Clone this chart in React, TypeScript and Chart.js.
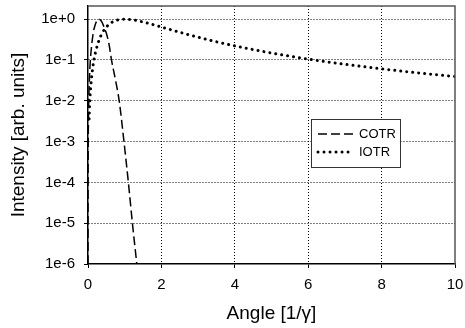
import React, { useEffect, useRef } from "react";
import { Chart, registerables } from "chart.js";

Chart.register(...registerables);

// COTR (coherent OTR)
const cotrAngle = [0.0002, 0.001, 0.005, 0.01, 0.02, 0.04, 0.064, 0.1, 0.14, 0.18, 0.23, 0.3, 0.37, 0.45, 0.5, 0.57, 0.64, 0.75, 0.85, 0.98, 1.1, 1.21, 1.33, 1.45];
const cotrIntensity = [1e-6, 2.4e-5, 6e-4, 2.4e-3, 9.6e-3, 0.038, 0.098, 0.23, 0.44, 0.65, 0.87, 1.0, 0.88, 0.6, 0.45, 0.25, 0.1, 0.032, 0.01, 1e-3, 1e-4, 1e-5, 1e-6, 1e-7];

// IOTR (incoherent OTR)
const iotrAngle = [0.03, 0.05, 0.07, 0.1, 0.15, 0.2, 0.3, 0.4, 0.5, 0.6, 0.7, 0.8, 1.0, 1.2, 1.5, 2, 2.5, 3, 3.5, 4, 5, 6, 7, 8, 9, 10];
const iotrIntensity = [0.0036, 0.00998, 0.0194, 0.0392, 0.0862, 0.148, 0.303, 0.476, 0.64, 0.779, 0.883, 0.952, 1.0, 0.967, 0.852, 0.64, 0.476, 0.36, 0.279, 0.221, 0.148, 0.105, 0.0784, 0.0606, 0.0482, 0.0392];

const seriesLabels = ["COTR", "IOTR"];
const yTickValues = [1e-6, 1e-5, 1e-4, 1e-3, 1e-2, 1e-1, 1];
const yTickLabels = ["1e-6", "1e-5", "1e-4", "1e-3", "1e-2", "1e-1", "1e+0"];
const xTickValues = [0, 2, 4, 6, 8, 10];
const xTitle = "Angle [1/\u03b3]";
const yTitle = "Intensity [arb. units]";

const FONT = "'Liberation Sans', Arial, sans-serif";

const COTR_DASH = [9, 4];
const IOTR_DASH = [0.01, 6];

const framePlugin = {
  id: "frameLegend",
  afterDraw(chart: any) {
    const { ctx, chartArea } = chart;
    const { left, right, top, bottom } = chartArea;
    ctx.save();
    // top & right frame
    ctx.strokeStyle = "#555";
    ctx.lineWidth = 1.5;
    ctx.setLineDash([]);
    ctx.beginPath();
    ctx.moveTo(left, top);
    ctx.lineTo(right, top);
    ctx.lineTo(right, bottom);
    ctx.stroke();

    // legend box
    const bx = 311.5, by = 119.5, bw = 89, bh = 48;
    ctx.fillStyle = "#fff";
    ctx.fillRect(bx, by, bw, bh);
    ctx.strokeStyle = "#333";
    ctx.lineWidth = 1;
    ctx.strokeRect(bx, by, bw, bh);

    const rows = [
      { y: 134, dash: COTR_DASH, width: 1.5, cap: "butt" },
      { y: 152, dash: IOTR_DASH, width: 3, cap: "round" },
    ];
    rows.forEach((r, i) => {
      ctx.strokeStyle = "#000";
      ctx.lineWidth = r.width;
      ctx.lineCap = r.cap;
      ctx.setLineDash(r.dash);
      ctx.beginPath();
      ctx.moveTo(318, r.y);
      ctx.lineTo(353, r.y);
      ctx.stroke();
      ctx.setLineDash([]);
      ctx.fillStyle = "#000";
      ctx.font = `13px ${FONT}`;
      ctx.textAlign = "left";
      ctx.textBaseline = "middle";
      ctx.fillText(seriesLabels[i], 359, r.y + 0.5);
    });
    ctx.restore();
  },
};

export default function App() {
  const ref = useRef<HTMLCanvasElement | null>(null);

  useEffect(() => {
    document.body.style.margin = "0";
    const canvas = ref.current!;
    const chart = new Chart(canvas, {
      type: "scatter",
      data: {
        datasets: [
          {
            label: seriesLabels[0],
            data: cotrAngle.map((x, i) => ({ x, y: cotrIntensity[i] })),
            showLine: true,
            borderColor: "#000",
            backgroundColor: "#000",
            borderWidth: 1.5,
            borderDash: COTR_DASH,
            pointRadius: 0,
            cubicInterpolationMode: "monotone",
          },
          {
            label: seriesLabels[1],
            data: iotrAngle.map((x, i) => ({ x, y: iotrIntensity[i] })),
            showLine: true,
            borderColor: "#000",
            backgroundColor: "#000",
            borderWidth: 3,
            borderDash: IOTR_DASH,
            borderCapStyle: "round",
            pointRadius: 0,
            cubicInterpolationMode: "monotone",
          },
        ],
      },
      options: {
        animation: false,
        responsive: false,
        maintainAspectRatio: false,
        layout: { padding: { left: 0, right: 10, top: 6, bottom: 0 } },
        plugins: { legend: { display: false }, tooltip: { enabled: false } },
        scales: {
          x: {
            type: "linear",
            min: 0,
            max: 10,
            afterBuildTicks: (s: any) => {
              s.ticks = xTickValues.map((v) => ({ value: v }));
            },
            afterFit: (s: any) => {
              s.height = 64;
              s.paddingLeft = 0;
              s.paddingRight = 0;
              s.paddingTop = 0;
              s.paddingBottom = 0;
            },
            ticks: {
              color: "#000",
              font: { family: FONT, size: 15 },
              padding: 8,
              maxRotation: 0,
              callback: (v: any) => String(v),
            },
            grid: {
              color: (c: any) => (c.tick && (c.tick.value === 0 || c.tick.value === 10) ? "rgba(0,0,0,0)" : "#000"),
              lineWidth: 1,
              tickLength: 4,
              tickColor: "#000",
              tickWidth: 1,
              tickBorderDash: [],
            },
            border: { display: true, color: "#000", width: 1.5, dash: [1, 2] },
            title: {
              display: true,
              text: xTitle,
              color: "#000",
              font: { family: FONT, size: 19 },
              padding: { top: 0, bottom: 3 },
            },
          },
          y: {
            type: "logarithmic",
            min: 1e-6,
            max: 2.1,
            afterBuildTicks: (s: any) => {
              s.ticks = yTickValues.map((v) => ({ value: v }));
            },
            afterFit: (s: any) => {
              s.width = 88;
              s.paddingLeft = 0;
              s.paddingRight = 0;
              s.paddingTop = 0;
              s.paddingBottom = 0;
            },
            ticks: {
              color: "#000",
              font: { family: FONT, size: 15 },
              padding: 9,
              callback: (v: any) => {
                const i = yTickValues.findIndex((t) => Math.abs(Math.log10(t) - Math.log10(v)) < 1e-6);
                return i >= 0 ? yTickLabels[i] : "";
              },
            },
            grid: {
              color: (c: any) => (c.tick && c.tick.value === 1e-6 ? "rgba(0,0,0,0)" : "#000"),
              lineWidth: 1,
              tickLength: 4,
              tickColor: "#000",
              tickWidth: 1,
              tickBorderDash: [],
            },
            border: { display: true, color: "#000", width: 1.5, dash: [1, 2] },
            title: {
              display: true,
              text: yTitle,
              color: "#000",
              font: { family: FONT, size: 19 },
              padding: { top: 7, bottom: 0 },
            },
          },
        },
      },
      plugins: [framePlugin],
    } as any);
    return () => chart.destroy();
  }, []);

  return (
    <div style={{ position: "absolute", left: 0, top: 0, width: 465, height: 328, background: "#fff" }}>
      <canvas ref={ref} width={465} height={328} style={{ width: 465, height: 328, display: "block" }} />
    </div>
  );
}
